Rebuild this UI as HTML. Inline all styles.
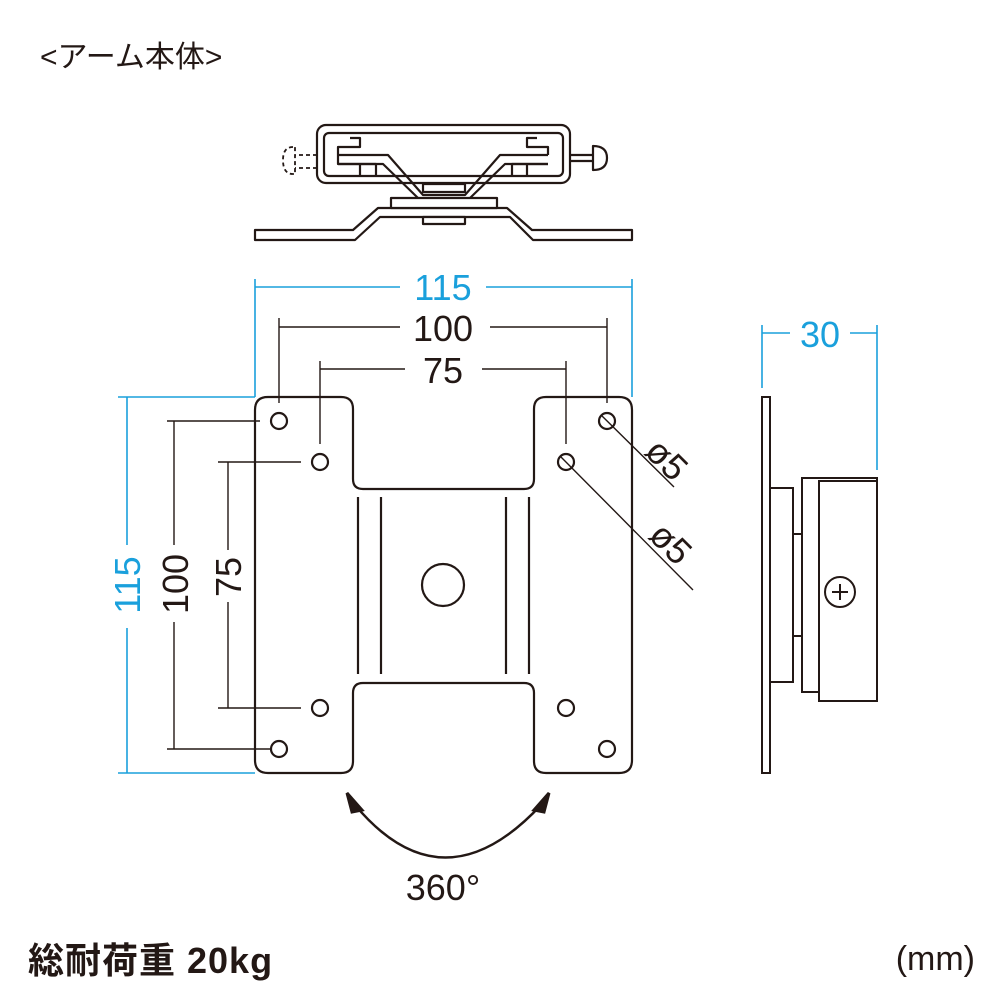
<!DOCTYPE html>
<html><head><meta charset="utf-8"><style>
body{margin:0;background:#fff}
svg{display:block}
text{font-family:"Liberation Sans","Noto Sans CJK JP",sans-serif}
</style></head><body>
<svg width="1000" height="1000" viewBox="0 0 1000 1000" xmlns="http://www.w3.org/2000/svg">
<text x="40" y="67" font-size="30" fill="#231815">&lt;アーム本体&gt;</text>

<!-- top view -->
<g fill="#fff" stroke="#231815" stroke-width="2.2" stroke-linejoin="round">
 <path d="M255,230 L353,230 L378,208 L507,208 L532,230 L632,230 L632,240 L533,240 L510,217 L380,217 L355,240 L255,240 Z"/>
 <rect x="391" y="198" width="106" height="10"/>
 <rect x="423" y="217" width="42" height="7"/>
 <rect x="317" y="125" width="253" height="58" rx="9"/>
 <rect x="324" y="133" width="239" height="43" rx="5"/>
 <path d="M338,155 L338,147 L360,147 L360,138 L350,138 M338,155 L338,164 L360,164 L360,176 M360,164 L376,164 L376,176 M338,155 L388,155 L423,195 L465,195 L500,155 L548,155 M388,155" fill="none"/>
 <path d="M338,164 L383,164 L418,198 M548,164 L505,164 L470,198" fill="none"/>
 <path d="M548,155 L548,147 L527,147 L527,138 L537,138 M548,164 L527,164 L527,176 M527,164 L512,164 L512,176" fill="none"/>
 <rect x="423" y="184" width="42" height="8"/>
 <path d="M570,155 L593,155 M570,161 L593,161" fill="none"/>
 <path d="M593,146 Q607,146 607,158 Q607,170 593,170 Z"/>
 <path d="M317,155 L295,155 M317,168 L295,168 M293,147 Q283,147 283,160 Q283,174 293,174 L295,174 L295,147 Z" fill="none" stroke-dasharray="4,3" stroke-width="1.8"/>
</g>

<!-- dimensions blue -->
<g stroke="#1aa0dc" stroke-width="1.6" fill="none">
 <path d="M255,279 V397 M632,279 V397 M255,287 H400 M486,287 H632"/>
 <path d="M118,397 H255 M118,773 H255 M127,397 V545 M127,628 V773"/>
 <path d="M762,325 V388 M877,325 V470 M762,333 H790 M850,333 H877"/>
</g>
<g fill="#1aa0dc" font-size="36">
 <text x="443" y="300" text-anchor="middle">115</text>
 <text transform="translate(140,585) rotate(-90)" text-anchor="middle">115</text>
 <text x="820" y="347" text-anchor="middle">30</text>
</g>
<!-- dims black -->
<g stroke="#231815" stroke-width="1.4" fill="none">
 <path d="M279,318 V403 M607,318 V403 M279,327 H400 M490,327 H607"/>
 <path d="M320,361 V444 M566,361 V444 M320,369 H405 M482,369 H566"/>
 <path d="M167,421 H260 M167,749 H270 M174,421 V545 M174,622 V749"/>
 <path d="M218,462 H301 M218,708 H301 M228,462 V550 M228,602 V708"/>
 <path d="M601,415 L674,487 M560,456 L693,590"/>
</g>
<g fill="#231815" font-size="36">
 <text x="443" y="341" text-anchor="middle">100</text>
 <text x="443" y="383" text-anchor="middle">75</text>
 <text transform="translate(188,584) rotate(-90)" text-anchor="middle">100</text>
 <text transform="translate(241,577) rotate(-90)" text-anchor="middle">75</text>
 <text transform="translate(658,468) rotate(45)" text-anchor="middle" font-size="36">ø5</text>
 <text transform="translate(662,552) rotate(45)" text-anchor="middle" font-size="36">ø5</text>
 <text x="443" y="900" text-anchor="middle" font-size="36">360°</text>
</g>

<!-- plate -->
<g fill="none" stroke="#231815" stroke-width="2.2">
 <path d="M268,397 H341 Q353,397 353,409 V479 Q353,489 363,489 H524 Q534,489 534,479 V409 Q534,397 546,397 H619 Q632,397 632,410 V760 Q632,773 619,773 H546 Q534,773 534,761 V693 Q534,683 524,683 H363 Q353,683 353,693 V761 Q353,773 341,773 H268 Q255,773 255,760 V410 Q255,397 268,397 Z"/>
 <circle cx="279" cy="421" r="8"/><circle cx="607" cy="421" r="8"/>
 <circle cx="279" cy="749" r="8"/><circle cx="607" cy="749" r="8"/>
 <circle cx="320" cy="462" r="8"/><circle cx="566" cy="462" r="8"/>
 <circle cx="320" cy="708" r="8"/><circle cx="566" cy="708" r="8"/>
 <circle cx="443" cy="585" r="21"/>
 <path d="M358,497 V674 M381,497 V674 M506,497 V674 M529,497 V674"/>
</g>

<!-- arc -->
<path d="M355,805 Q443,910 541,805" fill="none" stroke="#231815" stroke-width="2.5"/>
<path d="M347,793 L362,810 L352,812 Z" fill="#231815" stroke="#231815" stroke-width="3"/>
<path d="M549,793 L534,810 L544,812 Z" fill="#231815" stroke="#231815" stroke-width="3"/>

<!-- side view -->
<g fill="#fff" stroke="#231815" stroke-width="2">
 <rect x="762" y="397" width="8" height="376"/>
 <rect x="770" y="488" width="23" height="194"/>
 <rect x="793" y="534" width="9" height="102"/>
 <rect x="802" y="478" width="75" height="214"/>
 <rect x="819" y="481" width="58" height="220"/>
 <circle cx="840" cy="592" r="15"/>
 <path d="M832,592 H848 M840,584 V600" fill="none"/>
</g>

<text x="28" y="973" font-size="36" font-weight="bold" fill="#231815" letter-spacing="1">総耐荷重 20kg</text>
<text x="975" y="970" font-size="34" fill="#231815" text-anchor="end">(mm)</text>
</svg>
</body></html>
